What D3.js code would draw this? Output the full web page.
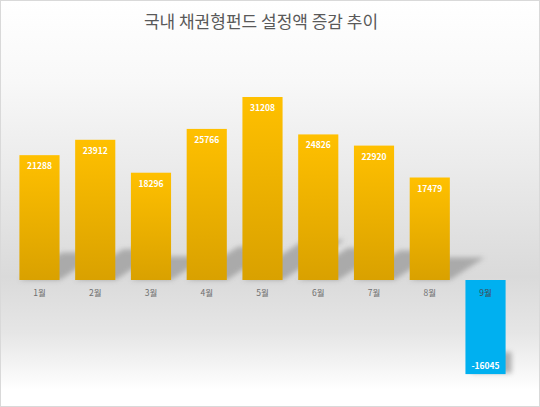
<!DOCTYPE html>
<html>
<head>
<meta charset="utf-8">
<script src="https://cdn.jsdelivr.net/npm/d3@7"></script>
<style>
  body { margin: 0; background: #fff; }
  svg { display: block; font-family: "Noto Sans CJK KR", "Noto Sans", sans-serif; }
</style>
</head>
<body>
<script>
(function () {

    //chart data
    var months = ["1월", "2월", "3월", "4월", "5월", "6월", "7월", "8월", "9월"];
    var amounts = [21288, 23912, 18296, 25766, 31208, 24826, 22920, 17479, -16045];
    var chartTitle = "국내 채권형펀드 설정액 증감 추이";

    //frame dimensions
    var width = 540,
        height = 407,
        left = 11.6,
        right = 513.4,
        baseline = 280;

    var svg = d3.select("body")
        .append("svg")
        .attr("width", width)
        .attr("height", height);

    var defs = svg.append("defs");

    //background gradient: white -> grey -> white
    var bg = defs.append("linearGradient")
        .attr("id", "bg")
        .attr("x1", 0).attr("y1", 0).attr("x2", 0).attr("y2", 1);
    bg.append("stop").attr("offset", "0%").attr("stop-color", "#ffffff");
    bg.append("stop").attr("offset", "20%").attr("stop-color", "#f8f8f8");
    bg.append("stop").attr("offset", "68%").attr("stop-color", "#dadada");
    bg.append("stop").attr("offset", "82%").attr("stop-color", "#e6e6e6");
    bg.append("stop").attr("offset", "96%").attr("stop-color", "#ffffff");

    //bar gradient
    var barGrad = defs.append("linearGradient")
        .attr("id", "barGrad")
        .attr("x1", 0).attr("y1", 0).attr("x2", 0).attr("y2", 1);
    barGrad.append("stop").attr("offset", "0%").attr("stop-color", "#ffc000");
    barGrad.append("stop").attr("offset", "100%").attr("stop-color", "#d9a100");

    //blur for shadows
    defs.append("filter")
        .attr("id", "blur")
        .attr("x", "-50%").attr("y", "-50%").attr("width", "200%").attr("height", "200%")
        .append("feGaussianBlur")
        .attr("stdDeviation", 2.5);

    //background + border
    svg.append("rect")
        .attr("x", 0.5).attr("y", 0.5)
        .attr("width", width - 1).attr("height", height - 1)
        .attr("fill", "url(#bg)")
        .attr("stroke", "#d9d9d9");

    //title
    svg.append("text")
        .attr("x", 261)
        .attr("y", 28)
        .attr("text-anchor", "middle")
        .attr("font-size", 17)
        .attr("fill", "#595959")
        .text(chartTitle);

    //scales
    var x = d3.scaleBand()
        .domain(months)
        .range([left, right])
        .paddingInner(0.28)
        .paddingOuter(0.14);

    var y = d3.scaleLinear()
        .domain([0, 31208])
        .range([baseline, 97]);

    //perspective shadows behind bars
    svg.selectAll(".shadow")
        .data(amounts)
        .enter()
        .append("path")
        .attr("class", "shadow")
        .attr("fill", "#9a9a9a")
        .attr("opacity", 0.75)
        .attr("filter", "url(#blur)")
        .attr("d", function (d, i) {
            var x0 = x(months[i]), x1 = x0 + x.bandwidth();
            if (d >= 0) {
                var h = baseline - y(d);
                var dx = h * 0.34, dy = h * 0.22;
                return "M" + x0 + "," + baseline + "L" + x1 + "," + baseline +
                    "L" + (x1 + dx) + "," + (baseline - dy) +
                    "L" + (x0 + dx) + "," + (baseline - dy) + "Z";
            }
            var yb = y(d);
            return "M" + (x0 + 6) + "," + (yb - 22) + "L" + (x1 + 6) + "," + (yb - 22) +
                "L" + (x1 + 6) + "," + (yb - 1) + "L" + (x0 + 6) + "," + (yb - 1) + "Z";
        });

    //bars
    svg.selectAll(".bar")
        .data(amounts)
        .enter()
        .append("rect")
        .attr("class", "bar")
        .attr("x", function (d, i) { return x(months[i]); })
        .attr("width", x.bandwidth())
        .attr("y", function (d) { return d >= 0 ? y(d) : y(0); })
        .attr("height", function (d) { return Math.abs(y(d) - y(0)); })
        .attr("fill", function (d) { return d >= 0 ? "url(#barGrad)" : "#00b0f0"; });

    //month labels
    svg.selectAll(".month")
        .data(months)
        .enter()
        .append("text")
        .attr("class", "month")
        .attr("x", function (d) { return x(d) + x.bandwidth() / 2; })
        .attr("y", 296)
        .attr("text-anchor", "middle")
        .attr("font-size", 8.5)
        .attr("fill", function (d, i) { return amounts[i] < 0 ? "#3f4a55" : "#6f6f6f"; })
        .text(function (d) { return d; });

    //value labels
    svg.selectAll(".value")
        .data(amounts)
        .enter()
        .append("text")
        .attr("class", "value")
        .attr("x", function (d, i) { return x(months[i]) + x.bandwidth() / 2; })
        .attr("y", function (d) { return d >= 0 ? y(d) + 14 : y(d) - 5; })
        .attr("text-anchor", "middle")
        .attr("font-size", 8.5)
        .attr("font-weight", "bold")
        .attr("fill", "#ffffff")
        .text(function (d) { return d; });

})();
</script>
</body>
</html>
